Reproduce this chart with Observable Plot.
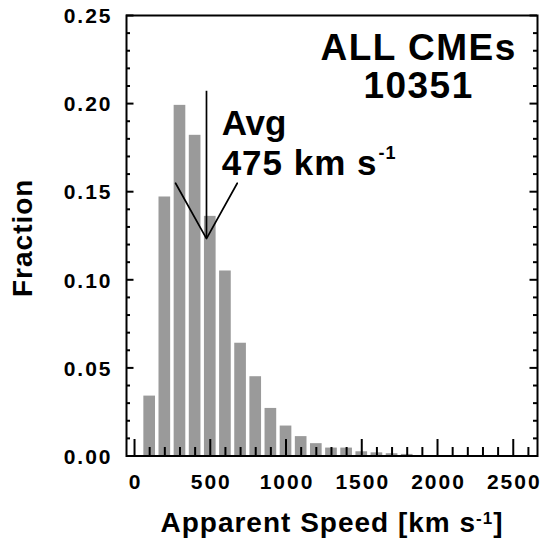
<!DOCTYPE html>
<html><head><meta charset="utf-8">
<script src="https://cdn.jsdelivr.net/npm/d3@7"></script>
<script src="https://cdn.jsdelivr.net/npm/@observablehq/plot@0.6"></script>
<style>html,body{margin:0;padding:0;background:#fff;} svg{display:block;}</style>
</head><body><div id="chart"></div>
<script>
// ---- data ----
const speedBins = [100, 200, 300, 400, 500, 600, 700, 800, 900, 1000, 1100, 1200, 1300, 1400, 1500, 1600, 1700, 1800];
const fractions = [0.034, 0.147, 0.199, 0.182, 0.136, 0.105, 0.064, 0.045, 0.027, 0.017, 0.011, 0.007, 0.0045, 0.0045, 0.0024, 0.0018, 0.0013, 0.0009];
const xTickValues = [0, 500, 1000, 1500, 2000, 2500];
const xTickLabels = ["0", "500", "1000", "1500", "2000", "2500"];
const yTickValues = [0, 0.05, 0.10, 0.15, 0.20, 0.25];
const yTickLabels = ["0.00", "0.05", "0.10", "0.15", "0.20", "0.25"];
const titleLines = ["ALL CMEs", "10351"];
const avgSpeed = 475;
const avgLabelLines = ["Avg", "475 km s"];
const avgArrowTop = 0.207;
const avgArrowTip = 0.1234;
const arrowHeadX = [271, 475, 678];
const arrowHeadY = [0.1548, 0.1234, 0.1548];
const xLabel = "Apparent Speed [km s";
const yLabel = "Fraction";

// ---- tables built from the arrays ----
const bars = speedBins.map((s, i) => ({speed: s, fraction: fractions[i]}));
const xTicks = xTickValues.map((v, i) => ({v, label: xTickLabels[i]}));
const yTicks = yTickValues.map((v, i) => ({v, label: yTickLabels[i]}));
const arrowHead = arrowHeadX.map((x, i) => ({x, y: arrowHeadY[i]}));
const xMinor = d3.range(100, 2700, 100).filter(v => v % 500 !== 0);
const yMinor = d3.range(1, 25).map(v => v / 100).filter(v => Math.round(v * 100) % 5 !== 0);

const W = 547, H = 539, ML = 126, MR = 10, MT = 15, MB = 83.5;
const FW = W - ML - MR, FH = H - MT - MB;
const halfBar = 38.5;

const svg = Plot.plot({
  width: W, height: H,
  marginLeft: ML, marginRight: MR, marginTop: MT, marginBottom: MB,
  style: {fontFamily: "'Liberation Sans', Arial, Helvetica, sans-serif", fontWeight: "bold", background: "white", color: "black"},
  x: {domain: [-53, 2660], axis: null},
  y: {domain: [0, 0.25], axis: null},
  marks: [
    Plot.rectY(bars, {x1: d => d.speed - halfBar, x2: d => d.speed + halfBar, y: "fraction", fill: "#9a9a9a"}),
    // x ticks (inward from bottom)
    Plot.tickX(xTickValues, {x: d => d, insetTop: FH - 16.5, stroke: "black", strokeWidth: 2}),
    Plot.tickX(xMinor, {x: d => d, insetTop: FH - 8.5, stroke: "black", strokeWidth: 2}),
    // y ticks left & right
    Plot.tickY(yTickValues, {y: d => d, insetRight: FW - 7.5, stroke: "black", strokeWidth: 2}),
    Plot.tickY(yMinor, {y: d => d, insetRight: FW - 4, stroke: "black", strokeWidth: 2}),
    Plot.tickY(yTickValues, {y: d => d, insetLeft: FW - 7.5, stroke: "black", strokeWidth: 2}),
    Plot.tickY(yMinor, {y: d => d, insetLeft: FW - 4, stroke: "black", strokeWidth: 2}),
    Plot.frame({stroke: "black", strokeWidth: 2}),
    // tick labels
    Plot.text(xTicks, {x: "v", text: "label", frameAnchor: "bottom", dy: 33, dx: 1, textAnchor: "middle", lineAnchor: "bottom", fontSize: 21, fill: "black"}),
    Plot.text(yTicks, {y: "v", text: "label", frameAnchor: "left", dx: -14, dy: 1, textAnchor: "end", fontSize: 21, fill: "black"}),
    // axis labels
    Plot.text([xLabel], {text: d => d, frameAnchor: "bottom", dy: 76, textAnchor: "middle", lineAnchor: "bottom", fontSize: 28, fill: "black"}),
    Plot.text([yLabel], {text: d => d, frameAnchor: "left", dx: -95, dy: 2, rotate: -90, textAnchor: "middle", lineAnchor: "bottom", fontSize: 28, fill: "black"}),
    // title
    Plot.text([titleLines[0]], {x: () => 1875, y: () => 0.2245, text: d => d, textAnchor: "middle", lineAnchor: "bottom", fontSize: 37, fill: "black"}),
    Plot.text([titleLines[1]], {x: () => 1875, y: () => 0.2030, text: d => d, textAnchor: "middle", lineAnchor: "bottom", fontSize: 37, fill: "black"}),
    // average annotation
    Plot.ruleX([avgSpeed], {x: d => d, y1: () => avgArrowTip, y2: () => avgArrowTop, stroke: "black", strokeWidth: 1.7}),
    Plot.line(arrowHead, {x: "x", y: "y", stroke: "black", strokeWidth: 1.7}),
    Plot.text([avgLabelLines[0]], {x: () => 575, y: () => 0.1819, text: d => d, textAnchor: "start", lineAnchor: "bottom", fontSize: 35, fill: "black"}),
    Plot.text([avgLabelLines[1]], {x: () => 575, y: () => 0.1592, text: d => d, textAnchor: "start", lineAnchor: "bottom", fontSize: 35, fill: "black"})
  ]
});

const s = d3.select(svg);
const byText = list => s.selectAll("text").filter(function () { return list.includes(this.textContent); });
byText(xTickLabels).attr("letter-spacing", 2);
byText(yTickLabels).attr("letter-spacing", 2);
byText(titleLines).attr("letter-spacing", 1.5);
byText([yLabel]).attr("letter-spacing", 1);
const xl = byText([xLabel]).attr("letter-spacing", 1);
const av = byText([avgLabelLines[1]]).attr("letter-spacing", 1);
xl.append("tspan").attr("dy", -8).attr("font-size", 17).text("-1");
xl.append("tspan").attr("dy", 8).text("]");
av.append("tspan").attr("dx", 1).attr("dy", -16).attr("font-size", 18).text("-1");

document.getElementById("chart").appendChild(svg);
</script>
</body></html>
